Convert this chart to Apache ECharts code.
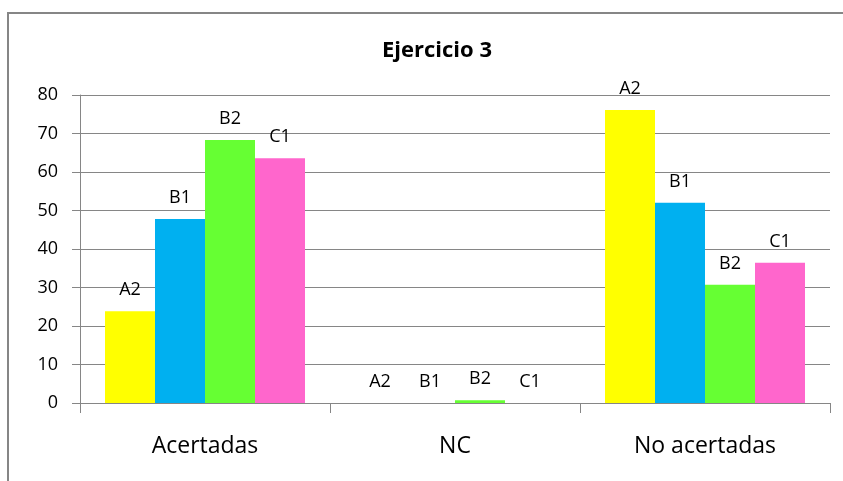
<!DOCTYPE html>
<html>
<head>
<meta charset="utf-8">
<script src="https://cdn.jsdelivr.net/npm/echarts@6/dist/echarts.min.js"></script>
<style>
  html, body { margin: 0; padding: 0; background: #fff; }
  #chart { width: 843px; height: 481px; }
</style>
</head>
<body>
<div id="chart"></div>
<script>
// Answer categories and grade groups
const categories = ['Acertadas', 'NC', 'No acertadas'];
const seriesNames = ['A2', 'B1', 'B2', 'C1'];
const seriesColors = ['#FFFF00', '#00B0F0', '#66FF33', '#FF66CC'];

// Percentages per group
const valuesA2 = [23.8, 0, 76.1];
const valuesB1 = [47.8, 0, 52.0];
const valuesB2 = [68.3, 0.7, 30.7];
const valuesC1 = [63.6, 0, 36.4];

// Y axis ticks
const yMin = 0;
const yMax = 80;
const yStep = 10;

const allValues = [valuesA2, valuesB1, valuesB2, valuesC1];
const font = '"Open Sans", "Liberation Sans", sans-serif';
const gray = '#868686';

const chart = echarts.init(document.getElementById('chart'), null, { renderer: 'canvas' });

chart.setOption({
  animation: false,
  backgroundColor: '#fff',
  title: {
    text: 'Ejercicio 3',
    left: 432,
    top: 35,
    textAlign: 'center',
    textStyle: { fontFamily: font, fontSize: 22, fontWeight: 'bold', color: '#000' }
  },
  graphic: [{
    type: 'rect',
    shape: { x: 8, y: 13, width: 850, height: 490 },
    style: { fill: 'none', stroke: gray, lineWidth: 2 },
    silent: true
  }],
  grid: { left: 80, right: 13, top: 95, bottom: 78, containLabel: false },
  xAxis: {
    type: 'category',
    data: categories,
    axisLine: { show: true, lineStyle: { color: gray, width: 1 } },
    axisTick: { show: true, length: 10, alignWithLabel: false, lineStyle: { color: gray } },
    axisLabel: { fontFamily: font, fontSize: 23, color: '#000', margin: 32 },
    splitLine: { show: false }
  },
  yAxis: {
    type: 'value',
    min: yMin,
    max: yMax,
    interval: yStep,
    axisLine: { show: true, lineStyle: { color: gray, width: 1 } },
    axisTick: { show: true, length: 8, lineStyle: { color: gray } },
    axisLabel: { fontFamily: font, fontSize: 18, color: '#000', margin: 22 },
    splitLine: { show: true, lineStyle: { color: gray, width: 1 } }
  },
  series: seriesNames.map((name, i) => ({
    name: name,
    type: 'bar',
    data: allValues[i],
    barGap: '0%',
    barCategoryGap: '20%',
    itemStyle: { color: seriesColors[i] },
    label: {
      show: true,
      position: 'top',
      distance: 12,
      formatter: '{a}',
      fontFamily: font,
      fontSize: 18,
      color: '#000'
    }
  }))
});
</script>
</body>
</html>
